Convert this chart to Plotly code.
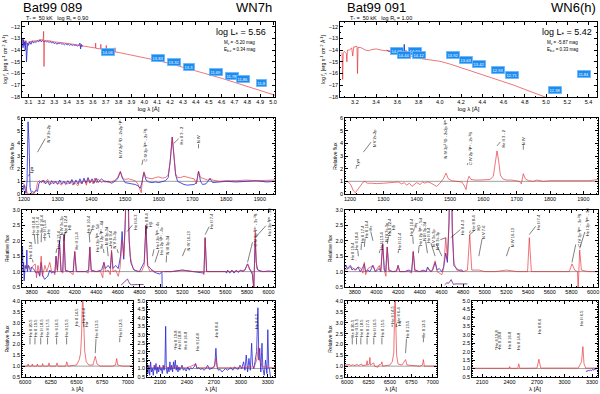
import plotly.graph_objects as go

# ===============================
# DATA
# ===============================
# --- SED panels: log lambda vs log f_lambda
SED_L_MOD_X = [3.054, 3.07, 3.09, 3.10, 3.13, 3.16, 3.19, 3.215, 3.218, 3.221, 3.224, 3.26, 3.30, 3.35, 3.40,
               3.45, 3.50, 3.55, 3.60, 3.62, 3.622, 3.624, 3.66, 3.662, 3.664, 3.70, 3.705, 3.708, 3.75, 3.77,
               3.772, 3.775, 3.80, 3.90, 4.00, 4.10, 4.20, 4.30, 4.40, 4.50, 4.60, 4.70, 4.80, 4.90, 5.00, 5.015]
SED_L_MOD_Y = [-13.4, -13.2, -13.5, -13.3, -13.25, -13.2, -13.15, -13.1, -12.4, -15.4, -13.2, -13.2, -13.3, -13.35, -13.4,
               -13.5, -13.6, -13.68, -13.78, -13.82, -13.4, -13.85, -13.9, -13.5, -13.92, -13.98, -13.6, -14.0, -14.1, -14.15,
               -13.8, -14.17, -14.2, -14.42, -14.65, -14.88, -15.15, -15.45, -15.76, -16.08, -16.4, -16.75, -17.1, -17.45, -17.8, -17.85]
SED_L_OBS_X = [3.054, 3.058, 3.062, 3.066, 3.07, 3.075, 3.08, 3.085, 3.09, 3.095, 3.10, 3.11, 3.12, 3.13, 3.14, 3.15,
               3.16, 3.17, 3.18, 3.19, 3.20, 3.21, 3.22, 3.23, 3.24, 3.25, 3.26, 3.27, 3.28, 3.29, 3.30, 3.31, 3.32,
               3.33, 3.34, 3.35, 3.36, 3.37, 3.38, 3.39, 3.40, 3.41, 3.42, 3.43, 3.44, 3.45, 3.46, 3.47, 3.48, 3.49,
               3.50, 3.505, 3.51, 3.515, 3.52]
SED_L_OBS_Y = [-13.0, -13.8, -13.1, -13.6, -13.3, -14.0, -13.2, -15.0, -14.0, -13.4, -13.6, -13.3, -13.5, -13.2, -13.4, -13.25,
               -13.35, -13.2, -13.3, -13.1, -13.3, -13.15, -13.3, -13.2, -13.3, -13.25, -13.35, -13.25, -13.4, -13.3, -13.45, -13.35, -13.5,
               -13.4, -13.45, -13.4, -13.5, -13.45, -13.55, -13.45, -13.55, -13.5, -13.6, -13.5, -13.6, -13.55, -13.6, -13.55, -13.65, -13.6,
               -13.4, -13.9, -13.5, -13.7, -13.6]
SED_R_MOD_X = [3.07, 3.08, 3.085, 3.09, 3.10, 3.12, 3.125, 3.13, 3.15, 3.17, 3.18, 3.19, 3.20, 3.21, 3.22, 3.225, 3.23,
               3.26, 3.30, 3.33, 3.36, 3.40, 3.45, 3.50, 3.55, 3.58, 3.582, 3.585, 3.60, 3.65, 3.68, 3.682, 3.685, 3.70,
               3.75, 3.78, 3.782, 3.785, 3.80, 3.90, 4.00, 4.10, 4.20, 4.30, 4.40, 4.50, 4.60, 4.70, 4.80, 4.90, 5.00, 5.02]
SED_R_MOD_Y = [-14.2, -14.3, -16.5, -14.2, -14.1, -14.3, -15.0, -14.0, -14.0, -13.8, -14.5, -13.7, -13.75, -13.65, -13.7, -16.0, -13.75,
               -13.8, -14.0, -14.05, -13.95, -13.9, -14.0, -14.05, -14.1, -14.15, -13.8, -14.17, -14.2, -14.3, -14.38, -14.0, -14.4, -14.45,
               -14.55, -14.62, -14.3, -14.65, -14.7, -14.85, -14.95, -15.2, -15.5, -15.75, -16.05, -16.35, -16.7, -17.0, -17.35, -17.7, -18.0, -18.1]
SED_R_OBS_X = [3.50, 3.52, 3.55, 3.58, 3.60, 3.62, 3.64, 3.66, 3.665, 3.67, 3.70, 3.72, 3.75]
SED_R_OBS_Y = [-14.0, -14.1, -14.05, -14.15, -14.1, -14.2, -14.15, -14.3, -13.5, -14.25, -14.35, -14.3, -14.4]

# photometry boxes (log lambda, log f, magnitude)
PHOT_L_X = [3.72, 4.11, 4.23, 4.35, 4.56, 4.68, 4.77, 4.91]
PHOT_L_Y = [-14.2, -14.7, -15.05, -15.4, -15.9, -16.2, -16.5, -16.8]
PHOT_L_MAG = ["14.06", "13.83", "13.32", "13.3", "11.69", "11.78", "11.86", "11.8"]
PHOT_R_X = [3.60, 3.77, 3.66, 3.80, 4.12, 4.25, 4.37, 4.55, 4.68, 5.08, 5.36]
PHOT_R_Y = [-14.06, -14.06, -14.43, -14.43, -14.4, -14.85, -15.19, -15.67, -16.1, -17.4, -16.0]
PHOT_R_MAG = ["14.38", "14.24", "14.44", "14.12", "13.92", "13.63", "13.42", "12.93", "12.71", "12.38", "11.84"]

# --- UV panels
UV_L_WAVE = [1194, 1200, 1205, 1210, 1215, 1222, 1230, 1236, 1240, 1245, 1250, 1255, 1260, 1265, 1270, 1275, 1280, 1290,
             1300, 1305, 1310, 1320, 1330, 1340, 1345, 1350, 1360, 1365, 1370, 1380, 1385, 1390, 1395, 1400, 1405, 1410,
             1415, 1420, 1430, 1440, 1450, 1460, 1470, 1478, 1486, 1492, 1500, 1510, 1520, 1530, 1538, 1545, 1548, 1552,
             1556, 1562, 1570, 1580, 1590, 1600, 1610, 1620, 1628, 1634, 1640, 1645, 1650, 1656, 1665, 1675, 1685, 1695,
             1705, 1712, 1718, 1724, 1735, 1745, 1752, 1760, 1780, 1800, 1830, 1860, 1890, 1920, 1945]
UV_L_MOD = [0.85, 0.8, 0.5, 0.05, 0.0, 0.0, 0.05, 0.3, 0.9, 1.05, 0.95, 1.1, 0.85, 1.0, 1.15, 0.9, 0.8, 1.0,
            0.75, 0.9, 0.7, 0.95, 0.8, 1.0, 0.7, 0.95, 0.65, 1.0, 0.8, 1.1, 0.7, 1.2, 0.85, 1.1, 0.8, 1.25,
            0.9, 1.2, 0.9, 1.05, 0.9, 0.95, 1.1, 1.3, 1.8, 1.3, 1.15, 1.2, 1.1, 1.05, 0.8, 0.2, 0.1, 1.3,
            1.75, 1.3, 1.25, 1.2, 1.3, 1.35, 1.25, 1.3, 1.5, 2.6, 4.5, 3.0, 1.6, 1.3, 1.3, 1.4, 1.3, 1.25,
            1.2, 0.8, 1.8, 1.3, 1.2, 1.1, 1.25, 1.1, 1.0, 1.05, 1.05, 1.1, 1.05, 1.05, 1.1]
UV_L_OBS_WAVE = [1194, 1197, 1200, 1203, 1206, 1209, 1212, 1215, 1218, 1222, 1226, 1230, 1235, 1240, 1244, 1248, 1252,
                 1258, 1264, 1270, 1276, 1282, 1288, 1294, 1300, 1306, 1312, 1318, 1324, 1330, 1336, 1342, 1348, 1354,
                 1360, 1366, 1372, 1378, 1384, 1390, 1396, 1402, 1408, 1414, 1420, 1430, 1440, 1450, 1460, 1470, 1478,
                 1486, 1492, 1500, 1510, 1520, 1530, 1538, 1545, 1550, 1556, 1562, 1570, 1580, 1590, 1600, 1610, 1620,
                 1628, 1634, 1640, 1645, 1650, 1656, 1665, 1675, 1685, 1695, 1705, 1712, 1718, 1724, 1730, 1740, 1748,
                 1752, 1760, 1780, 1800, 1830, 1860, 1890, 1920, 1945]
UV_L_OBS = [0.5, 0.3, 0.7, 0.2, 0.05, 1.0, 5.7, 4.0, 0.5, 0.1, 0.2, 0.1, 0.3, 0.2, 0.8, 1.0, 0.9,
            1.1, 0.8, 1.0, 0.7, 1.05, 0.8, 1.0, 0.8, 1.1, 0.8, 1.0, 0.75, 1.05, 0.8, 1.15, 0.75, 1.1,
            0.8, 1.2, 0.8, 1.25, 0.85, 1.3, 0.9, 1.2, 0.85, 1.25, 0.9, 1.2, 0.95, 1.0, 0.85, 1.0, 1.2,
            1.75, 1.25, 0.9, 0.85, 0.8, 0.75, 0.65, 0.45, 0.9, 1.7, 1.1, 0.95, 0.9, 0.95, 0.9, 1.0, 1.05,
            1.3, 2.6, 4.5, 3.2, 1.5, 1.0, 0.85, 0.75, 0.7, 0.7, 0.75, 0.9, 1.8, 1.0, 0.75, 0.8, 1.1,
            1.2, 0.9, 0.95, 1.0, 0.95, 1.0, 1.05, 0.95, 1.0]
UV_R_WAVE = [1185, 1195, 1203, 1210, 1216, 1222, 1232, 1240, 1245, 1252, 1265, 1280, 1300, 1320, 1335, 1345, 1355, 1362,
             1370, 1378, 1386, 1394, 1400, 1410, 1418, 1425, 1432, 1440, 1450, 1460, 1470, 1480, 1488, 1495, 1505, 1520,
             1535, 1542, 1548, 1553, 1557, 1563, 1575, 1590, 1605, 1620, 1630, 1636, 1641, 1646, 1651, 1658, 1670, 1685,
             1700, 1708, 1714, 1720, 1726, 1735, 1750, 1760, 1780, 1800, 1840, 1880, 1920, 1944]
UV_R_MOD = [1.0, 0.95, 0.7, 0.25, 0.1, 0.3, 0.7, 0.95, 1.0, 0.85, 0.85, 0.82, 0.85, 0.88, 0.9, 0.95, 0.8, 0.9,
            0.7, 0.85, 0.6, 0.8, 0.9, 0.75, 0.95, 0.85, 0.95, 0.9, 0.75, 0.6, 0.85, 1.2, 1.65, 1.2, 1.05, 1.0,
            0.95, 0.7, 0.35, 1.1, 1.4, 1.15, 1.1, 1.1, 1.1, 1.15, 1.4, 2.4, 3.4, 2.6, 1.5, 1.2, 1.1, 1.1,
            1.05, 1.0, 0.8, 1.6, 1.2, 1.05, 1.0, 1.1, 1.0, 1.05, 1.05, 1.05, 1.05, 1.15]

# --- optical panels
OPT_L_WAVE = [3710, 3730, 3750, 3770, 3790, 3813, 3833, 3845, 3858, 3875, 3888, 3900, 3923, 3940, 3968, 3985, 4000,
              4015, 4026, 4040, 4058, 4075, 4090, 4100, 4115, 4150, 4185, 4200, 4215, 4250, 4300, 4325, 4340, 4355,
              4380, 4410, 4440, 4460, 4471, 4485, 4510, 4530, 4542, 4555, 4580, 4604, 4620, 4640, 4655, 4670, 4686,
              4700, 4715, 4740, 4780, 4820, 4845, 4861, 4875, 4900, 4920, 4945, 5000, 5100, 5200, 5300, 5390, 5400,
              5411, 5425, 5500, 5600, 5700, 5780, 5805, 5825, 5850, 5865, 5876, 5890, 5920, 6000, 6060]
OPT_L_MOD = [1.1, 1.15, 1.1, 1.2, 1.1, 1.2, 1.25, 0.8, 1.2, 0.9, 1.5, 0.85, 1.2, 1.0, 1.3, 1.0, 1.0,
             0.9, 1.5, 1.0, 1.9, 1.0, 0.95, 2.2, 1.0, 1.0, 0.9, 1.65, 1.0, 1.0, 1.0, 0.95, 1.8, 1.0,
             1.0, 1.0, 1.0, 0.8, 1.3, 1.0, 1.05, 0.9, 1.7, 1.0, 1.05, 0.85, 1.1, 2.0, 1.5, 2.5, 6.0,
             2.5, 1.5, 1.1, 1.0, 1.0, 1.2, 2.5, 1.2, 1.0, 1.05, 1.0, 1.0, 1.0, 1.05, 1.0, 1.0, 0.9,
             2.1, 1.0, 1.0, 1.0, 1.0, 1.05, 1.25, 1.05, 1.0, 0.45, 2.3, 1.1, 1.0, 1.0, 1.0]
OPT_L_OBS_WAVE = [3710, 3715, 3720, 3725, 3730, 3740, 3750, 3755, 3760, 3770, 3780, 3790, 3800, 3813, 3825, 3840, 3860,
                  3875, 3888, 3900, 3910, 3920, 3935, 3950, 3968, 3985, 4000, 4015, 4026, 4038, 4058, 4072, 4088, 4100,
                  4112, 4150, 4185, 4200, 4215, 4260, 4300, 4330, 4340, 4352, 4400, 4450, 4471, 4485, 4510, 4530, 4542,
                  4555, 4580, 4604, 4625, 4640, 4655, 4670, 4686, 4705, 4720, 4750, 4800, 4845, 4861, 4878, 4900, 4930,
                  4960, 4990, 5010, 5012, 5014, 5030, 5100, 5200, 5300, 5400, 5411, 5425, 5500, 5600, 5610, 5620, 5640,
                  5660, 5680, 5700, 5720, 5740, 5760, 5780, 5805, 5830, 5850, 5862, 5876, 5885, 5900, 5950, 6000, 6060]
OPT_L_OBS = [1.3, 1.8, 1.0, 1.3, 0.7, 1.2, 1.1, 1.7, 1.0, 1.2, 1.1, 1.0, 1.15, 1.1, 1.05, 0.95, 1.0,
             0.85, 1.3, 0.9, 0.8, 0.75, 0.8, 0.85, 1.05, 0.95, 1.0, 0.95, 1.5, 1.05, 2.0, 1.0, 1.0, 2.2,
             1.05, 1.0, 1.0, 1.65, 1.0, 1.0, 1.0, 1.05, 1.8, 1.05, 1.0, 1.05, 1.3, 1.1, 1.2, 1.1, 1.65,
             1.1, 1.2, 1.1, 1.5, 2.3, 1.4, 2.8, 6.0, 2.0, 1.3, 1.05, 1.0, 1.3, 2.5, 1.2, 1.1, 1.0,
             0.95, 0.92, 1.0, 0.5, None, 1.0, 1.0, 1.05, 1.0, 0.95, 2.1, 1.0, 1.0, 1.0, 0.95, 1.05, 0.95,
             1.05, 0.95, 1.05, 0.97, 1.05, 1.0, 1.05, 1.25, 1.05, 0.9, 0.45, 2.0, 1.3, 1.05, 1.0, 1.02, 1.0]
OPT_INSET_WAVE = [4630, 4650, 4665, 4680, 4690, 4700, 4712, 4725, 4745, 4780, 4840]
OPT_INSET_L = [0.56, 0.62, 0.66, 0.72, 0.76, 0.68, 0.6, 0.57, 0.58, 0.58, 0.58]
OPT_INSET_R = [0.57, 0.64, 0.62, 0.7, 0.74, 0.66, 0.58, 0.6, 0.6, 0.6, 0.6]

OPT_R_WAVE = [3710, 3740, 3770, 3800, 3813, 3833, 3858, 3875, 3888, 3900, 3923, 3968, 3990, 4026, 4040, 4058, 4075,
              4088, 4100, 4115, 4185, 4200, 4215, 4300, 4325, 4340, 4355, 4450, 4471, 4510, 4542, 4560, 4604, 4620,
              4640, 4655, 4670, 4686, 4700, 4715, 4740, 4800, 4840, 4861, 4880, 4945, 5000, 5100, 5200, 5300, 5395,
              5411, 5430, 5500, 5600, 5700, 5780, 5805, 5830, 5855, 5862, 5876, 5892, 5950, 6045]
OPT_R_MOD = [1.05, 1.1, 1.15, 1.05, 1.1, 1.15, 1.1, 0.95, 1.3, 0.9, 1.1, 1.2, 1.0, 1.2, 1.0, 1.9, 1.0,
             0.85, 1.8, 1.0, 1.0, 1.2, 1.0, 1.0, 0.95, 1.65, 1.0, 1.0, 1.1, 1.0, 1.35, 1.0, 0.9, 1.1,
             2.1, 1.4, 2.6, 6.0, 2.6, 1.3, 1.05, 1.0, 1.05, 2.2, 1.05, 1.05, 1.0, 1.0, 1.05, 1.0, 1.0,
             2.1, 1.0, 1.0, 1.0, 1.0, 1.0, 1.25, 1.05, 1.0, 0.45, 1.7, 1.05, 1.0, 1.0]
OPT_R_OBS_WAVE = [3710, 3720, 3730, 3745, 3760, 3775, 3790, 3810, 3830, 3850, 3870, 3888, 3900, 3920, 3940, 3968, 3990,
                  4010, 4026, 4040, 4058, 4072, 4085, 4100, 4115, 4150, 4185, 4200, 4215, 4260, 4300, 4325, 4340, 4355,
                  4400, 4430, 4460, 4471, 4500, 4520, 4542, 4560, 4580, 4604, 4620, 4640, 4655, 4670, 4686, 4700, 4715,
                  4740, 4760, 4790, 4800]
OPT_R_OBS = [1.15, 1.2, 1.1, 1.15, 1.2, 1.05, 1.1, 1.05, 1.15, 1.0, 1.1, 1.25, 1.0, 1.05, 1.0, 1.2, 1.0,
             1.05, 1.1, 1.0, 1.9, 1.05, 1.0, 1.8, 1.05, 1.0, 1.02, 1.2, 1.0, 1.0, 1.05, 1.0, 1.65, 1.05,
             1.0, 1.05, 1.0, 1.15, 1.0, 1.05, 1.3, 1.05, 1.1, 1.0, 1.15, 1.6, 1.3, 2.6, 6.0, 2.3, 1.2,
             1.1, 1.05, 1.05, 1.0]

# --- red (6000-7000) panels
IR1_L_WAVE = [5970, 6000, 6025, 6030, 6035, 6065, 6070, 6075, 6115, 6120, 6125, 6165, 6171, 6177, 6225, 6233, 6241,
              6300, 6311, 6320, 6395, 6406, 6418, 6500, 6527, 6540, 6550, 6560, 6570, 6580, 6595, 6620, 6660, 6683,
              6700, 6730, 6850, 6880, 6891, 6902, 6950, 7050]
IR1_L_MOD = [1.0, 1.0, 1.0, 1.1, 1.0, 1.0, 1.1, 1.0, 1.0, 1.1, 1.0, 1.0, 1.12, 1.0, 1.0, 1.15, 1.0,
             1.0, 1.15, 1.0, 1.0, 1.2, 1.0, 1.05, 1.3, 1.6, 2.5, 4.5, 3.0, 1.7, 1.2, 1.05, 1.05, 1.45,
             1.1, 1.0, 1.0, 1.05, 1.35, 1.05, 1.0, 1.0]
IR1_R_WAVE = [5975, 6000, 6030, 6040, 6070, 6080, 6120, 6130, 6170, 6180, 6225, 6233, 6240, 6260, 6266, 6272, 6300,
              6311, 6320, 6360, 6370, 6400, 6406, 6415, 6500, 6527, 6545, 6553, 6560, 6568, 6578, 6595, 6640, 6683,
              6700, 6850, 6880, 6891, 6902, 7050]
IR1_R_MOD = [1.05, 1.05, 1.08, 1.02, 1.07, 1.02, 1.08, 1.02, 1.1, 1.02, 1.05, 1.25, 1.05, 1.1, 1.4, 1.05, 1.1,
             1.15, 1.0, 0.95, 1.05, 1.1, 1.2, 1.0, 1.05, 1.2, 1.6, 2.8, 4.5, 3.0, 1.5, 1.1, 1.05, 1.3,
             1.05, 1.0, 1.05, 1.3, 1.0, 1.0]

# --- last panels (2100-3300)
IR2_L_OBS_WAVE = [1955, 1965, 1975, 1985, 1995, 2005, 2015, 2025, 2035, 2045, 2055, 2065, 2075, 2085, 2095, 2105, 2115,
                  2125, 2135, 2145, 2155, 2163, 2170, 2180, 2190, 2200, 2210, 2220, 2230, 2240, 2250, 2260, 2270, 2280,
                  2290, 2300, 2310, 2320, 2330, 2345, 2360, 2375, 2390, 2410, 2425, 2440, 2460, 2480, 2496, 2510, 2530,
                  2550, 2570, 2590, 2610, 2630, 2650, 2670, 2690, 2710, 2722, 2735, 2750, 2770, 2790, 2810, 2830, 2850,
                  2870, 2890, 2910, 2930, 2950, 2970, 2990, 3010, 3030, 3045, 3060, 3075, 3090, 3105, 3120, 3130, 3145,
                  3160, 3175, 3190, 3200, 3210, 3222, 3235, 3245, 3260, 3275, 3290, 3300, 3310, 3320, 3330]
IR2_L_OBS = [1.3, 0.7, 1.2, 0.6, 1.4, 0.8, 1.0, 0.6, 1.2, 0.9, 1.3, 0.7, 1.1, 0.8, 1.2, 0.9, 1.0,
             0.7, 1.2, 0.9, 1.3, 3.5, 1.0, 0.7, 1.1, 0.8, 1.4, 0.9, 1.2, 0.8, 1.4, 1.0, 1.5, 0.9,
             1.2, 0.8, 1.1, 0.9, 1.0, 1.2, 0.9, 1.0, 0.85, 1.1, 0.9, 1.05, 1.0, 1.1, 1.3, 1.0, 1.05,
             0.95, 1.0, 0.9, 1.0, 1.2, 0.95, 1.0, 1.05, 1.2, 2.2, 1.1, 0.9, 0.95, 0.8, 0.9, 1.0, 0.9,
             1.0, 1.05, 0.9, 1.1, 1.0, 0.95, 1.2, 1.0, 1.4, 0.9, 1.8, 0.8, 1.6, 0.9, 2.5, 1.2, 1.0,
             1.4, 2.0, 4.6, 1.5, 2.2, 0.8, 2.5, 1.0, 0.6, 1.5, 0.7, 3.3, 1.1, 0.9, 0.5]
IR2_L_WAVE = [1955, 2100, 2163, 2180, 2240, 2290, 2400, 2496, 2510, 2700, 2722, 2740, 3000, 3150, 3180, 3195, 3210,
              3240, 3380]
IR2_L_MOD = [1.05, 1.05, 1.1, 1.05, 1.05, 1.05, 1.05, 1.25, 1.05, 1.05, 1.6, 1.05, 1.05, 1.1, 1.6, 2.3, 1.5,
             1.1, 1.05]
IR2_R_WAVE = [1990, 2100, 2160, 2170, 2240, 2250, 2290, 2300, 2395, 2400, 2410, 2490, 2500, 2512, 2700, 2720, 2740,
              3150, 3185, 3200, 3212, 3230, 3365]
IR2_R_MOD = [1.02, 1.02, 1.03, 1.02, 1.05, 1.02, 1.05, 1.02, 1.02, 1.12, 1.02, 1.02, 1.28, 1.02, 1.03, 1.55, 1.03,
             1.03, 1.4, 2.3, 1.3, 1.03, 1.03]
IR2_R_OBS_WAVE = [3235, 3245, 3255, 3265, 3275, 3285, 3295, 3305, 3315, 3325, 3335, 3345, 3355, 3365]
IR2_R_OBS = [0.8, 0.88, 0.84, 0.9, 0.86, 0.92, 0.88, 0.95, 0.9, 0.97, 0.94, 1.0, 0.98, 1.05]

# --- line identifications: (line wavelength, tip y, text x, text y, text)
UV_L_LABELS = [(1213, 1.4, 1222, 1.9, "Lyα"), (1240, 3.3, 1272, 4.8, "N V 2s-2p"),
               (1487, 3.1, 1487, 4.4, "N IV 2p² ¹D - 2s2p ¹P°"), (1550, 2.3, 1562, 3.9, "C IV 2p ²P° - 2s ²S"),
               (1645, 4.0, 1668, 4.6, "He II 3 - 2"), (1718, 3.6, 1718, 4.3, "N IV")]
UV_R_LABELS = [(1218, 2.0, 1222, 2.5, "Lyα"), (1240, 3.3, 1272, 4.4, "N V 2s-2p"),
               (1488, 3.3, 1488, 4.3, "N IV 2p² ¹D - 2s2p ¹P°"), (1552, 2.3, 1562, 3.6, "C IV 2p ²P° - 2s ²S"),
               (1641, 3.8, 1660, 4.4, "He II 3 - 2"), (1720, 3.5, 1720, 4.2, "N IV")]
OPT_L_LABELS = [(3813, 1.3, 3785, 1.7, "He II 19-4"), (3833, 1.9, 3815, 2.5, "He II 18-4"),
                (3858, 1.9, 3852, 2.5, "He II 17-4"), (3888, 1.95, 3893, 2.55, "He II 16-4"),
                (3923, 2.0, 3918, 2.4, "He II 15-4"), (3968, 2.1, 3955, 2.3, "Hε"),
                (4026, 1.6, 4048, 2.05, "He II 13-4"), (4058, 1.9, 4080, 2.5, "N IV 3s-3p"),
                (4100, 2.0, 4120, 2.55, "He II 12-4"), (4102, 2.2, 4157, 2.45, "Hδ"),
                (4200, 1.7, 4219, 2.0, "He II 11-4"), (4340, 1.95, 4327, 2.55, "He II 10-4"),
                (4340, 2.2, 4368, 2.45, "Hγ"), (4388, 1.7, 4411, 2.1, "He I 2p ³P° - 5d"),
                (4471, 1.6, 4452, 2.2, "He I 2p ³P° - 4d"), (4510, 1.5, 4492, 2.15, "N III 3p-3d"),
                (4542, 1.75, 4530, 2.1, "He II 9-4"), (4604, 1.6, 4567, 2.05, "N V 3s-3p"),
                (4686, 2.3, 4762, 2.62, "He II 4-3"), (4859, 2.2, 4865, 2.67, "He II 8-4"),
                (4861, 2.4, 4909, 2.55, "Hβ"), (4922, 1.5, 4964, 2.15, "He I 2p ³P° - 4s"),
                (4945, 1.3, 5010, 2.0, "He I 2p ¹P° - 4s"), (5050, 1.3, 5057, 1.85, "N III 3p-3d"),
                (5200, 1.5, 5258, 2.0, "N IV 16-13"), (5411, 2.2, 5476, 2.65, "He II 7-4"),
                (5805, 1.3, 5879, 2.35, "C IV 3p ²P° - 3s ²S"), (5876, 2.1, 6003, 2.6, "He I 2p ³P° - 3d")]
OPT_R_LABELS = [(3813, 1.35, 3784, 1.67, "He II 19-4"), (3833, 1.5, 3821, 2.0, "He II 18-4"),
                (3858, 1.7, 3867, 2.22, "He II 17-4"), (3888, 1.8, 3904, 2.38, "He II 16-4"),
                (3968, 2.0, 3941, 2.4, "Hε"), (4026, 1.6, 4052, 2.0, "He II 13-4"),
                (4058, 1.95, 4090, 2.3, "N IV 3s-3p"), (4100, 1.9, 4127, 2.45, "He II 12-4"),
                (4102, 2.2, 4164, 2.45, "Hδ"), (4200, 1.6, 4219, 2.0, "He II 11-4"),
                (4340, 1.9, 4330, 2.45, "He II 10-4"), (4341, 2.3, 4358, 2.5, "Hγ"),
                (4388, 1.6, 4405, 2.3, "He I 2p ³P° - 5d"), (4471, 1.6, 4441, 2.3, "N III 3p-3d"),
                (4542, 1.5, 4478, 2.2, "He II 9-4"), (4604, 1.5, 4525, 2.1, "N V 3s-3p"),
                (4640, 2.1, 4562, 2.0, "N III 3s-3p"), (4686, 2.1, 4803, 2.45, "He II 4-3"),
                (4859, 2.25, 4895, 2.6, "He II 8-4"), (4861, 2.2, 4942, 2.45, "Hβ"),
                (4945, 1.5, 4988, 2.3, "N V 7-6"), (5200, 1.5, 5256, 2.1, "N IV 16-13"),
                (5411, 2.2, 5497, 2.6, "He II 7-4"), (5805, 1.3, 5867, 2.35, "C IV 3p ²P° - 3s ²S"),
                (5876, 1.75, 5951, 2.6, "He I 2p ³P° - 3d")]
IR1_L_LABELS = [(6048, 2.0, 6048, 2.75, "He II 20-5"), (6096, 2.0, 6096, 2.75, "He II 19-5"),
                (6152, 2.0, 6152, 2.75, "He II 18-5"), (6219, 2.0, 6219, 2.75, "He II 17-5"),
                (6307, 2.0, 6307, 2.75, "He II 16-5"), (6404, 2.0, 6404, 2.75, "He II 15-5"),
                (6527, 2.8, 6494, 3.25, "He II 14-5"), (6572, 2.8, 6565, 3.35, "He II 6-4"),
                (6575, 2.8, 6604, 2.95, "Hα"), (6683, 1.6, 6695, 2.7, "He II 13-5"),
                (6921, 2.1, 6921, 2.75, "He II 12-5")]
IR1_R_LABELS = [(6060, 2.0, 6060, 2.75, "He II 20-5"), (6110, 2.0, 6110, 2.75, "He II 19-5"),
                (6160, 2.0, 6160, 2.75, "He II 18-5"), (6233, 2.0, 6233, 2.75, "He II 17-5"),
                (6311, 2.0, 6311, 2.75, "He II 16-5"), (6406, 2.0, 6406, 2.75, "He II 15-5"),
                (6527, 2.8, 6520, 3.35, "He II 14-5"), (6572, 2.8, 6590, 3.35, "He II 6-4"),
                (6575, 2.8, 6620, 3.0, "Hα"), (6683, 1.6, 6700, 2.7, "He II 13-5"),
                (6891, 2.1, 6891, 2.75, "He II 12-5")]
IR2_L_LABELS = [(2267, 2.1, 2267, 2.75, "He II 19-8"), (2323, 2.1, 2323, 2.7, "He II 18-8"),
                (2386, 2.1, 2386, 2.65, "He II 16-8"), (2515, 2.1, 2515, 2.6, "He II 14-8"),
                (2738, 2.8, 2738, 3.35, "He II 8-6"), (3195, 3.3, 3167, 3.8, "He II 6-5")]
IR2_R_LABELS = [(2250, 2.1, 2250, 2.75, "He II 19-8"), (2290, 2.1, 2290, 2.7, "He II 18-8"),
                (2400, 2.1, 2400, 2.65, "He II 16-8"), (2500, 2.1, 2500, 2.6, "He II 14-8"),
                (2720, 3.0, 2720, 3.5, "He II 8-6"), (3200, 3.6, 3190, 4.0, "He II 6-5")]

# ===============================
# LAYOUT HELPERS
# ===============================
W, H = 600, 394
RED = "rgba(228,40,48,0.8)"
BLUE = "#2424d8"
FONT = "Liberation Sans, Arial, sans-serif"

# panel frames in pixels: (left, right, top, bottom)
PANELS = {
    "sedL": (22, 275, 22, 97), "uvL": (22, 275, 118, 194), "optL": (22, 275, 210, 287),
    "ir1L": (22, 133, 301, 377), "ir2L": (147, 275, 301, 377),
    "sedR": (340, 597, 22, 97), "uvR": (345, 598, 118, 194), "optR": (345, 598, 210, 287),
    "ir1R": (345, 437, 301, 377), "ir2R": (472, 598, 301, 377),
}
ORDER = list(PANELS.keys())
AX = {k: i + 1 for i, k in enumerate(ORDER)}

fig = go.Figure()
layout = dict(width=W, height=H, margin=dict(l=0, r=0, t=0, b=0), showlegend=False,
              plot_bgcolor="white", paper_bgcolor="white", font=dict(family=FONT, color="black", size=6))
annotations = []
shapes = []


def ax_name(k, which):
    i = AX[k]
    return which if i == 1 else f"{which}{i}"


def set_axes(k, xr, yr, xtick, ytick, xminor=None, yminor=None, xtitle=None, ytitle=None, xfmt=None, yfmt=None):
    l, r, t, b = PANELS[k]
    common = dict(showline=True, linecolor="black", linewidth=0.7, mirror="allticks", ticks="inside",
                  ticklen=3, tickwidth=0.6, tickcolor="black", showgrid=False, zeroline=False,
                  tickfont=dict(size=5.5, family=FONT), automargin=False)
    xa = dict(common, domain=[l / W, r / W], range=xr, anchor=ax_name(k, "y"), tick0=xtick[0], dtick=xtick[1])
    ya = dict(common, domain=[1 - b / H, 1 - t / H], range=yr, anchor=ax_name(k, "x"), tick0=ytick[0], dtick=ytick[1])
    if xminor:
        xa["minor"] = dict(ticks="inside", ticklen=1.5, tickwidth=0.5, dtick=xminor, tickcolor="black")
    if yminor:
        ya["minor"] = dict(ticks="inside", ticklen=1.5, tickwidth=0.5, dtick=yminor, tickcolor="black")
    if xfmt:
        xa["tickformat"] = xfmt
    if yfmt:
        ya["tickformat"] = yfmt
    if xtitle:
        xa["title"] = dict(text=xtitle, font=dict(size=6), standoff=2)
    if ytitle:
        ya["title"] = dict(text=ytitle, font=dict(size=5), standoff=2)
    layout["xaxis" + ("" if AX[k] == 1 else str(AX[k]))] = xa
    layout["yaxis" + ("" if AX[k] == 1 else str(AX[k]))] = ya


def add_line(k, x, y, color, width=0.8):
    fig.add_trace(go.Scatter(x=x, y=y, mode="lines", line=dict(color=color, width=width),
                             xaxis=ax_name(k, "x"), yaxis=ax_name(k, "y"), hoverinfo="skip",
                             connectgaps=False))


def add_unity(k):
    shapes.append(dict(type="line", xref=ax_name(k, "x") + " domain", yref=ax_name(k, "y"),
                       x0=0, x1=1, y0=1, y1=1, line=dict(color="#777777", width=0.7), layer="below"))


def add_labels(k, labels):
    xr, yr = ax_name(k, "x"), ax_name(k, "y")
    for lx, ly, tx, ty, txt in labels:
        annotations.append(dict(x=lx, y=ly, ax=tx, ay=ty, xref=xr, yref=yr, axref=xr, ayref=yr,
                                text=txt, textangle=-90, showarrow=True, arrowhead=0, arrowwidth=0.5,
                                arrowcolor="black", standoff=0, startstandoff=0,
                                font=dict(size=4, family=FONT), borderpad=0))


def add_phot(k, xs, ys, mags):
    for x, y, m in zip(xs, ys, mags):
        annotations.append(dict(x=x, y=y, xref=ax_name(k, "x"), yref=ax_name(k, "y"), text=m,
                                showarrow=False, bgcolor="#1d8cf0", bordercolor="#7cc0ff", borderwidth=0.6,
                                borderpad=1, font=dict(size=4, color="white", family=FONT)))


def text(x, y, s, size, xanchor="left", yanchor="middle"):
    annotations.append(dict(x=x / W, y=1 - y / H, xref="paper", yref="paper", text=s, showarrow=False,
                            xanchor=xanchor, yanchor=yanchor, font=dict(size=size, family=FONT)))


# ===============================
# AXES
# ===============================
flux_title = "log f<sub>λ</sub> [erg s<sup>-1</sup> cm<sup>-2</sup> Å<sup>-1</sup>]"
set_axes("sedL", [3.05, 5.015], [-18, -11.6], (3.1, 0.1), (-18, 1), xtitle="log λ [Å]", ytitle=flux_title,
         xfmt=".1f", yminor=0.5)
set_axes("sedR", [3.06, 5.48], [-18, -11.6], (3.2, 0.2), (-18, 1), xtitle="log λ [Å]", ytitle=flux_title,
         xfmt=".1f", xminor=0.1, yminor=0.5)
set_axes("uvL", [1194, 1945], [0, 6], (1200, 100), (0, 1), xminor=20, yminor=0.2, ytitle="Relative flux")
set_axes("uvR", [1185, 1944], [0, 6], (1200, 100), (0, 1), xminor=20, yminor=0.2, ytitle="Relative flux")
set_axes("optL", [3710, 6060], [0.5, 3.0], (3800, 200), (0.5, 0.5), xminor=50, yminor=0.1,
         ytitle="Relative flux", yfmt=".1f")
set_axes("optR", [3710, 6045], [0.5, 3.0], (3800, 200), (0.5, 0.5), xminor=50, yminor=0.1,
         ytitle="Relative flux", yfmt=".1f")
set_axes("ir1L", [5970, 7050], [0.5, 4.0], (6000, 250), (0.5, 0.5), xminor=50, yminor=0.1,
         xtitle="λ [Å]", ytitle="Relative flux", yfmt=".1f")
set_axes("ir2L", [1955, 3380], [0.5, 5.0], (2100, 300), (0.5, 0.5), xminor=50, yminor=0.1,
         xtitle="λ [Å]", yfmt=".1f")
set_axes("ir1R", [5975, 7050], [0.5, 4.0], (6000, 250), (0.5, 0.5), xminor=50, yminor=0.1,
         xtitle="λ [Å]", ytitle="Relative flux", yfmt=".1f")
set_axes("ir2R", [1990, 3365], [0.5, 5.0], (2100, 300), (0.5, 0.5), xminor=50, yminor=0.1,
         xtitle="λ [Å]", yfmt=".1f")

# ===============================
# TRACES
# ===============================
# SED
add_line("sedL", SED_L_OBS_X, SED_L_OBS_Y, BLUE)
add_line("sedL", SED_L_MOD_X, SED_L_MOD_Y, RED)
add_line("sedR", SED_R_OBS_X, SED_R_OBS_Y, BLUE)
add_line("sedR", SED_R_MOD_X, SED_R_MOD_Y, RED)
add_phot("sedL", PHOT_L_X, PHOT_L_Y, PHOT_L_MAG)
add_phot("sedR", PHOT_R_X, PHOT_R_Y, PHOT_R_MAG)

# normalised panels
for k in ["uvL", "uvR", "optL", "optR", "ir1L", "ir1R", "ir2L", "ir2R"]:
    add_unity(k)
add_line("uvL", UV_L_OBS_WAVE, UV_L_OBS, BLUE)
add_line("uvL", UV_L_WAVE, UV_L_MOD, RED)
add_line("uvR", UV_R_WAVE, UV_R_MOD, RED)
add_line("optL", OPT_L_OBS_WAVE, OPT_L_OBS, BLUE)
add_line("optL", OPT_L_WAVE, OPT_L_MOD, RED)
add_line("optL", OPT_INSET_WAVE, OPT_INSET_L, "#6a1f8a")
add_line("optR", OPT_R_OBS_WAVE, OPT_R_OBS, BLUE)
add_line("optR", OPT_R_WAVE, OPT_R_MOD, RED)
add_line("optR", OPT_INSET_WAVE, OPT_INSET_R, "#6a1f8a")
add_line("ir1L", IR1_L_WAVE, IR1_L_MOD, RED)
add_line("ir1R", IR1_R_WAVE, IR1_R_MOD, RED)
add_line("ir2L", IR2_L_OBS_WAVE, IR2_L_OBS, BLUE)
add_line("ir2L", IR2_L_WAVE, IR2_L_MOD, RED)
add_line("ir2R", IR2_R_OBS_WAVE, IR2_R_OBS, BLUE)
add_line("ir2R", IR2_R_WAVE, IR2_R_MOD, RED)

add_labels("uvL", UV_L_LABELS)
add_labels("uvR", UV_R_LABELS)
add_labels("optL", OPT_L_LABELS)
add_labels("optR", OPT_R_LABELS)
add_labels("ir1L", IR1_L_LABELS)
add_labels("ir1R", IR1_R_LABELS)
add_labels("ir2L", IR2_L_LABELS)
add_labels("ir2R", IR2_R_LABELS)

# ===============================
# HEADERS
# ===============================
text(21, 8, "Bat99 089", 13)
text(274, 8, "WN7h", 13, xanchor="right")
text(24, 18.5, "T<sub>*</sub> =  50 kK   log R<sub>t</sub> = 0.90", 5.5)
text(268, 32, "log L<sub>*</sub> = 5.56", 9, xanchor="right")
text(222, 43, "M<sub>v</sub> = -5.20 mag", 4.5)
text(222, 50, "E<sub>b-v</sub> = 0.34 mag", 4.5)

text(345, 8, "Bat99 091", 13)
text(598, 8, "WN6(h)", 13, xanchor="right")
text(348, 18.5, "T<sub>*</sub> =  50 kK   log R<sub>t</sub> = 1.00", 5.5)
text(594, 32, "log L<sub>*</sub> = 5.42", 9, xanchor="right")
text(545, 43, "M<sub>v</sub> = -5.87 mag", 4.5)
text(545, 50, "E<sub>b-v</sub> = 0.33 mag", 4.5)

layout["annotations"] = annotations
layout["shapes"] = shapes
fig.update_layout(**layout)

# drop the default page margin so the figure fills the window, and hide the mode bar
fig.write_html("out.html", config={"displayModeBar": False},
               post_script="document.body.style.margin='0px';")
